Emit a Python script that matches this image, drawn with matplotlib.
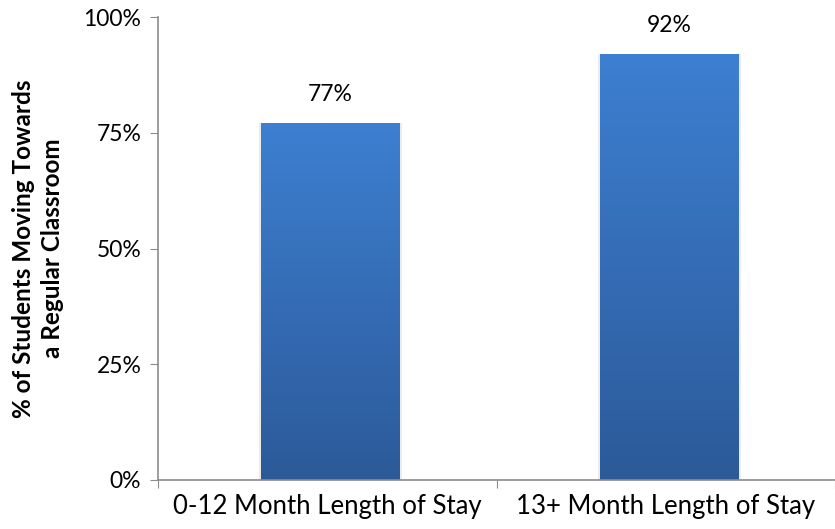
import numpy as np
import matplotlib.pyplot as plt
from matplotlib.colors import LinearSegmentedColormap

categories = ['0-12 Month Length of Stay', '13+ Month Length of Stay']
values = [77, 92]
yticks = [0, 25, 50, 75, 100]

plt.rcParams['font.family'] = ['Lato', 'DejaVu Sans']

fig = plt.figure(figsize=(8.35, 5.29), dpi=100)
ax = fig.add_axes([158/835, 1 - 480/529, 677/835, 463/529])

x = np.arange(len(categories))
bars = ax.bar(x + 0.01, values, width=0.41, color='none', zorder=2)

# vertical gradient fill clipped to each bar
cmap = LinearSegmentedColormap.from_list('bluegrad', ['#2c5a99', '#3d7fd1'])
grad = np.linspace(0, 1, 256).reshape(-1, 1)
for b in bars:
    x0, w, h = b.get_x(), b.get_width(), b.get_height()
    # soft shadow
    ax.bar(x0 + w/2, h, width=w + 0.012, color='#000000', alpha=0.08, zorder=1)
    im = ax.imshow(grad, cmap=cmap, origin='lower', aspect='auto',
                   extent=[x0, x0 + w, 0, h], zorder=2)
    im.set_clip_path(b)
    ax.text(x0 + w/2, h + 4, f'{h:.0f}%', ha='center', va='bottom', fontsize=16.5)

ax.set_xlim(-0.5, 1.5)
ax.set_ylim(0, 100)
ax.set_yticks(yticks)
ax.set_yticklabels([f'{t}%' for t in yticks], fontsize=16.5)
ax.set_xticks([-0.5, 0.5, 1.5])
ax.set_xticklabels([])
ax.set_xticks(x, minor=True)
ax.set_xticklabels(categories, minor=True, fontsize=18.5)
ax.tick_params(axis='x', which='minor', length=0, pad=10)
ax.tick_params(axis='x', which='major', length=6, color='#8c8c8c')
ax.tick_params(axis='y', length=6, color='#8c8c8c', pad=6)

for s in ['top', 'right']:
    ax.spines[s].set_visible(False)
for s in ['left', 'bottom']:
    ax.spines[s].set_color('#8c8c8c')
    ax.spines[s].set_linewidth(1.2)

ax.set_ylabel('% of Students Moving Towards\na Regular Classroom',
              fontsize=17.5, fontweight='bold', labelpad=14, linespacing=1.3)

fig.savefig('out.png', dpi=100)
